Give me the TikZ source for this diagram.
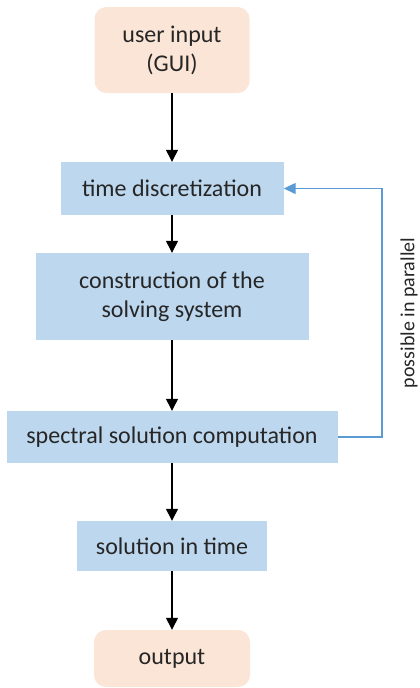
\documentclass[tikz,border=0pt]{standalone}
\usepackage{fontspec}
\setmainfont{Carlito}
\usetikzlibrary{arrows.meta}
\definecolor{boxblue}{HTML}{BDD7EE}
\definecolor{boxpeach}{HTML}{FBE5D6}
\definecolor{backblue}{HTML}{5B9BD5}
\definecolor{txtgray}{HTML}{262626}

\begin{document}
\begin{tikzpicture}[x=1pt, y=-1pt,
	stage/.style={fill=boxblue, text=txtgray, align=center, inner sep=0pt,
		font=\fontsize{24}{29}\selectfont},
	io/.style={stage, fill=boxpeach, rounded corners=12pt},
	flow/.style={-{Triangle[length=12pt,width=12pt]}, line width=1.3pt},
	back/.style={-{Triangle[length=12pt,width=11pt]}, line width=1.3pt, backblue}]
	\useasboundingbox (0,0) rectangle (420,688);
	\node[io, minimum width=155pt, minimum height=86pt] (input) at (172,50) {user input\\(GUI)};
	\node[stage, minimum width=223pt, minimum height=53pt] (disc) at (172,188.5) {time discretization};
	\node[stage, minimum width=273pt, minimum height=87pt] (cons) at (172,296.5) {construction of the\\solving system};
	\node[stage, minimum width=331pt, minimum height=52pt] (spec) at (172,437) {spectral solution computation};
	\node[stage, minimum width=190pt, minimum height=50pt] (sol) at (172,546) {solution in time};
	\node[io, minimum width=156pt, minimum height=57pt] (output) at (172,658.5) {output};
	\foreach \a/\b in {input/disc, disc/cons, cons/spec, spec/sol, sol/output}
	{
		\draw[flow] (\a.south) -- (\b.north);
	}
	% feedback
	\coordinate (rail) at (382,313);
	\draw[back] (spec.east) -| (rail) |- (disc.east);
	\node[rotate=90, text=txtgray, inner sep=0pt, font=\fontsize{20}{24}\selectfont] (par) at (409,313) {possible in parallel};
\end{tikzpicture}
\end{document}
